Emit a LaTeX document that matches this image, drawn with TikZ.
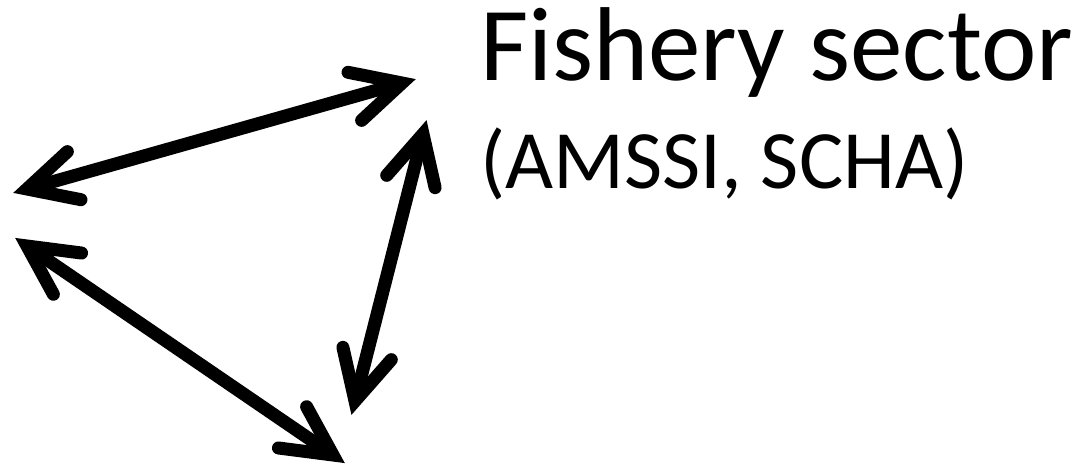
\documentclass[tikz,border=0pt]{standalone}
\usepackage{fontspec}
\setmainfont{Carlito}
\usetikzlibrary{calc}
\tikzset{
  shaft/.style={line width=13pt, line cap=butt},
  barb/.style={line width=13pt, line cap=round, line join=miter, miter limit=10},
  big/.style={inner sep=0pt, anchor=base west, font=\fontsize{105}{120}\selectfont},
  small/.style={inner sep=0pt, anchor=base west, font=\fontsize{83}{96}\selectfont}
}
\newcommand{\dblarrow}[2]{%
  \draw[shaft] (#1) -- (#2);
  \draw[barb] ($(#2)!55pt!27:(#1)$) -- (#2) -- ($(#2)!55pt!-27:(#1)$);
  \draw[barb] ($(#1)!55pt!27:(#2)$) -- (#1) -- ($(#1)!55pt!-27:(#2)$);
}
\begin{document}
\begin{tikzpicture}[x=1pt,y=-1pt]
\useasboundingbox (0,0) rectangle (1089,466);
\coordinate (a1) at (27,189);
\coordinate (b1) at (402,83);
\coordinate (a2) at (423,134);
\coordinate (b2) at (355,401);
\coordinate (a3) at (27,246);
\coordinate (b3) at (333,455);
\dblarrow{a1}{b1}
\dblarrow{a2}{b2}
\dblarrow{a3}{b3}
\node[big] (t1) at (480,80) {Fishery sector};
\node[small] (t2) at (480,188) {(AMSSI, SCHA)};
\end{tikzpicture}
\end{document}
